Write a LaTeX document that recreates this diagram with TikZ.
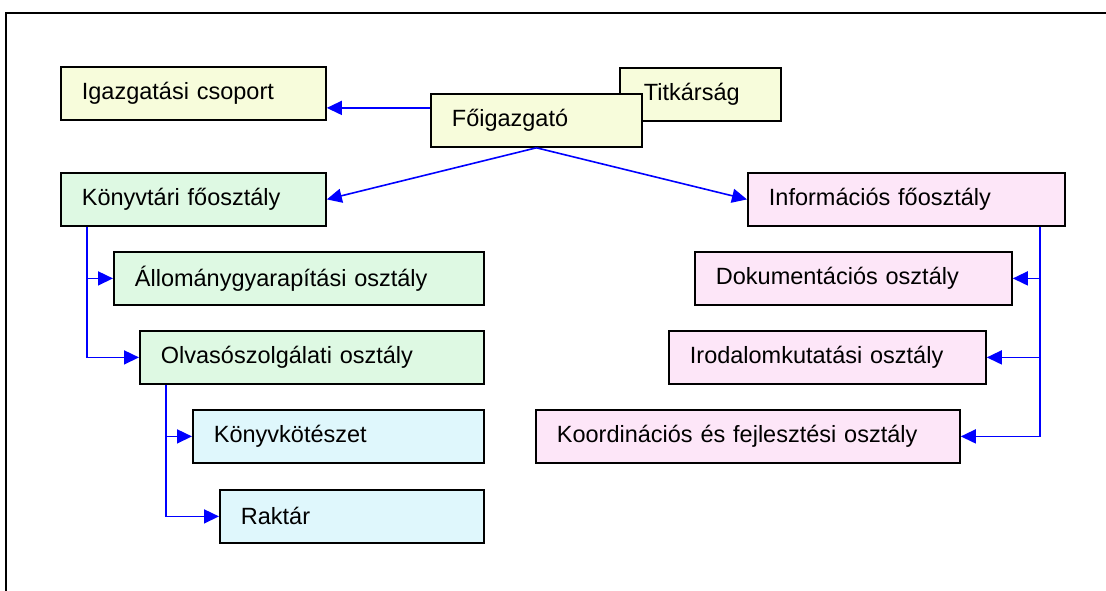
\documentclass[tikz,border=0pt]{standalone}
\usepackage{fontspec}
\setmainfont{Liberation Sans}
\usetikzlibrary{arrows.meta, positioning}

\definecolor{sargas}{RGB}{247,252,219}
\definecolor{zoldes}{RGB}{222,249,227}
\definecolor{rozsas}{RGB}{253,230,248}
\definecolor{kekes}{RGB}{223,247,252}

\begin{document}
\begin{tikzpicture}[
    x=1pt, y=-1pt,
    unit/.style={rectangle, draw=black, line width=1.8pt, anchor=north west,
                 minimum height=53pt, inner xsep=21pt, align=left,
                 font=\fontsize{23.5}{28}\selectfont},
    link/.style={draw=blue, line width=1.6pt, -{Triangle[length=15pt,width=14pt]}}]
\useasboundingbox (0,0) rectangle (1106,590);
\draw[line width=1.8pt] (6,600) -- (6,13) -- (1120,13);

\node[unit, fill=sargas, text width=223pt] (igazg) at (60,66) {Igazgatási csoport};
\node[unit, fill=sargas, text width=113pt, inner xsep=24pt] (titk) at (619,67) {Titkárság};
\node[unit, fill=sargas, text width=169pt] (fo) at (430,93) {Főigazgató};

\node[unit, fill=zoldes, text width=223pt] (konyvtar) at (60,172) {Könyvtári főosztály};
\node[unit, fill=zoldes, text width=328pt] (allom) at (113,251) {Állománygyarapítási osztály};
\node[unit, fill=zoldes, text width=302pt] (olv) at (139,330) {Olvasószolgálati osztály};
\node[unit, fill=kekes, text width=249pt] (kotes) at (192,409) {Könyvkötészet};
\node[unit, fill=kekes, text width=222pt] (raktar) at (219,489) {Raktár};

\node[unit, fill=rozsas, text width=275pt] (info) at (747,172) {Információs főosztály};
\node[unit, fill=rozsas, text width=275pt] (dok) at (694,251) {Dokumentációs osztály};
\node[unit, fill=rozsas, text width=275pt] (irod) at (668,330) {Irodalomkutatási osztály};
\node[unit, fill=rozsas, text width=382pt] (koord) at (535,409) {Koordinációs és fejlesztési osztály};

\draw[link] ([yshift=12.5pt]fo.west) -- ([yshift=12.5pt]fo.west -| igazg.east);
\draw[link] (fo.south) -- (konyvtar.east);
\draw[link] (fo.south) -- (info.west);

\draw[link] ([xshift=27pt]konyvtar.south west) |- (allom.west);
\draw[link] ([xshift=27pt]konyvtar.south west) |- (olv.west);
\draw[link] ([xshift=27pt]olv.south west) |- (kotes.west);
\draw[link] ([xshift=27pt]olv.south west) |- (raktar.west);

\draw[link] ([xshift=-26pt]info.south east) |- (dok.east);
\draw[link] ([xshift=-26pt]info.south east) |- (irod.east);
\draw[link] ([xshift=-26pt]info.south east) |- (koord.east);
\end{tikzpicture}
\end{document}
